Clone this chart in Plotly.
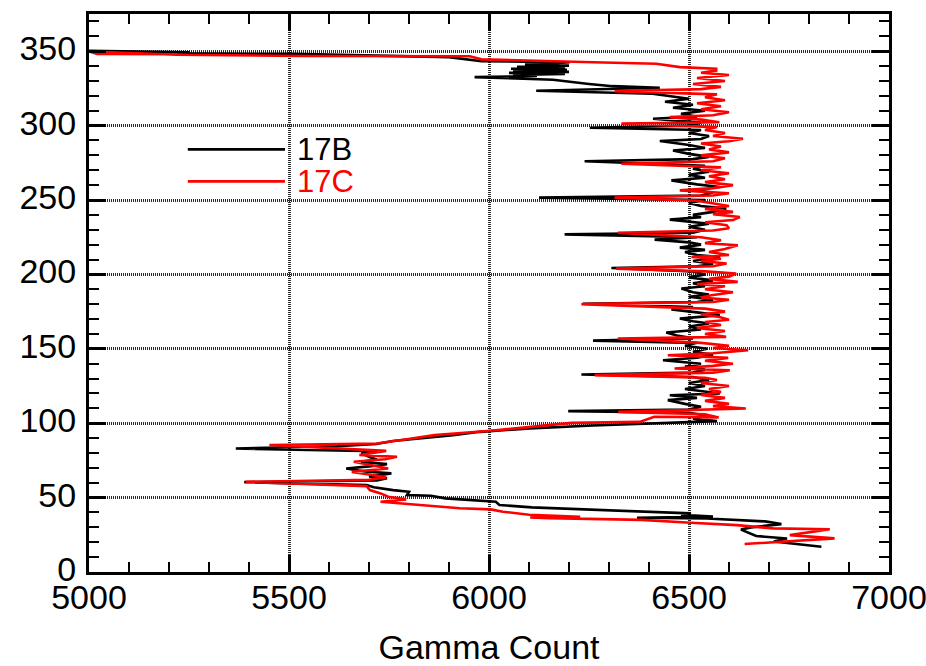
import plotly.graph_objects as go

# ---------------- data (depth, gamma count) ----------------
b_depth = [17.0, 20.5, 22.5, 24.2, 28.5, 30.0, 32.2, 34.0, 36.0, 36.5, 37.3, 38.5, 39.4, 41.5, 43.4, 45.0,
           47.2, 49.5, 51.2, 51.7, 53.9, 55.0, 56.9, 58.4, 60.4, 61.5, 63.0, 64.2, 66.3, 67.5, 69.6, 71.0,
           72.5, 74.0, 75.5, 77.5, 79.7, 81.2, 83.0, 84.5, 86.0, 88.0, 90.2, 92.0, 94.2, 96.5, 98.5, 100.0,
           101.4, 103, 105, 107, 108.1, 109.2, 111, 113, 115.5, 117, 118.8, 120, 121.5, 123, 125, 127, 129,
           131, 132.7, 134, 136, 138, 140, 142.3, 144, 146, 148, 150, 152, 154, 155.5, 157, 159, 161, 163,
           165, 167, 168.5, 170.3, 172.6, 174.5, 176.4, 178, 180.3, 181.5, 183, 185, 186.5, 188, 190.5,
           192, 194, 196, 198, 200, 202, 204.3, 205.5, 207, 209, 211.7, 213, 215, 216.5, 218, 220, 221.5,
           223.4, 225, 226.9, 228, 230, 232, 234, 236.8, 238.5, 240, 242, 244.2, 246, 248, 250, 251.6,
           253, 255, 256.5, 258.7, 260.5, 263.2, 265, 267, 269, 271, 273, 276, 277.5, 279, 281, 283.3,
           285, 287, 289.6, 291, 293, 295, 297, 298.6, 300, 302, 304.6, 306, 308, 310, 312, 314, 316, 318,
           320, 321.4, 323.4, 325.4, 326.5, 328, 330.8, 332.0, 332.6, 333.3, 334.0, 334.7, 335.4, 336.1,
           336.8, 337.5, 338.2, 338.9, 339.6, 340.3, 341.0, 341.7, 342.6, 343.3, 346.0, 348.2, 348.6,
           349.2, 350.3]
b_count = [6831, 6712, 6745, 6668, 6630, 6655, 6731, 6690, 6545, 6370, 6560, 6480, 6505, 6300, 6107, 6026,
           6017, 5891, 5855, 5795, 5800, 5760, 5712, 5694, 5388, 5720, 5745, 5700, 5756, 5690, 5643, 5700,
           5745, 5680, 5720, 5700, 5681, 5720, 5367, 5620, 5718, 5760, 5852, 5910, 5977, 6102, 6260, 6400,
           6570, 6510, 6545, 6500, 6198, 6500, 6530, 6490, 6447, 6520, 6452, 6577, 6530, 6490, 6540, 6500, 6550,
           6510, 6231, 6510, 6540, 6490, 6530, 6435, 6520, 6560, 6510, 6545, 6490, 6520, 6260, 6510, 6470, 6443, 6530,
           6500, 6550, 6510, 6477, 6577, 6520, 6456, 6510, 6235, 6520, 6560, 6500, 6550, 6510, 6481,
           6540, 6510, 6560, 6500, 6540, 6510, 6306, 6520, 6560, 6510, 6577, 6520, 6490, 6540, 6477, 6530, 6500,
           6414, 6520, 6189, 6510, 6540, 6500, 6550, 6452, 6530, 6510, 6560, 6593, 6530, 6500, 6540, 6125,
           6530, 6560, 6510, 6577, 6520, 6456, 6540, 6500, 6550, 6510, 6540, 6239, 6510, 6550, 6500, 6460,
           6540, 6500, 6427, 6530, 6550, 6500, 6530, 6252, 6500, 6530, 6410, 6520, 6480, 6540, 6460, 6510, 6440, 6500,
           6450, 6409, 6118, 6427, 6309, 6250, 6160, 6030, 5964, 6120, 6060, 6190, 6050, 6200,
           6060, 6195, 6055, 6190, 6070, 6200, 6090, 6150, 6202, 5981, 5900, 5510, 5220,
           5250, 5000]

r_depth = [18.8, 22.6, 24.8, 28.7, 29.3, 31.5, 33.1, 35.0, 36.2, 36.7, 37.1, 38.5, 40.5, 42.1, 42.8, 45.7,
           47.2, 48.8, 50.6, 52.8, 55.1, 57.7, 60.6, 62.0, 63.6, 65.5, 67.3, 69.6, 72.0, 74.1, 75.8, 77.4,
           78.6, 81.4, 85.3, 86.4, 89.0, 92.0, 94.9, 97.5, 100.2, 100.9, 104.3, 103.9, 106, 107.6, 109.9,
           111.5, 113, 115, 117, 119, 121, 123, 125, 127, 129, 130.5, 132.3, 134, 135.6, 136.8, 138.5, 140,
           142, 143.9, 145.7, 147, 149, 150.5, 152, 154, 156.9, 158, 160, 162, 164, 166, 168, 169.5, 171.4,
           173, 175, 177, 180, 181.5, 183, 184.5, 186, 188, 190, 192, 193.5, 195, 197, 198.5, 200.5, 202,
           203.9, 205.5, 207.3, 209, 210.5, 211.7, 213, 215, 217, 219.6, 221, 223, 225, 228, 229.5, 231,
           233, 235, 236.5, 238.6, 240.5, 242, 244, 246, 248, 249.5, 251.6, 253, 254.5, 256.5, 258, 260,
           262, 264, 266, 268, 270, 272, 274.4, 276, 278, 280, 282, 284, 286, 288, 289.5, 291.2, 293, 295,
           297, 299, 301.3, 302.3, 304, 305.7, 307, 309, 311, 313, 315, 317, 319, 321, 323.2, 324.5, 326,
           328, 330, 332, 334, 335.5, 337, 338.2, 339.3, 341.6, 342.6, 343.8, 344.5, 346.6, 346.8, 347.6,
           349.8, 348.2, 347.9]
r_count = [6639, 6864, 6752, 6852, 6710, 6620, 6505, 6380, 6150, 6103, 6228, 6100, 6035, 6004, 5927, 5793,
           5729, 5793, 5748, 5729, 5702, 5694, 5392, 5700, 5743, 5700, 5657, 5748, 5700, 5662, 5740, 5770,
           5676, 5743, 5451, 5720, 5790, 5864, 6004, 6100, 6206, 6377, 6413, 6574, 6540, 6323, 6642,
           6560, 6600, 6540, 6590, 6530, 6580, 6550, 6600, 6530, 6570, 6540, 6264, 6560, 6602, 6464, 6560, 6610,
           6540, 6598, 6447, 6560, 6648, 6560, 6600, 6530, 6322, 6593, 6540, 6590, 6520, 6580, 6540, 6600, 6576,
           6530, 6590, 6540, 6231, 6560, 6600, 6530, 6556, 6610, 6540, 6590, 6520, 6622, 6550, 6600, 6618, 6540,
           6318, 6560, 6594, 6530, 6580, 6506, 6600, 6550, 6590, 6622, 6540, 6580, 6530, 6322, 6560, 6600,
           6594, 6540, 6610, 6627, 6560, 6610, 6540, 6600, 6550, 6520, 6314, 6560, 6600, 6477, 6560, 6610,
           6540, 6590, 6550, 6600, 6530, 6580, 6331, 6560, 6590, 6530, 6600, 6550, 6580, 6530, 6600, 6635, 6560, 6590,
           6540, 6570, 6331, 6576, 6530, 6452, 6560, 6600, 6530, 6580, 6520, 6590, 6540, 6570, 6314, 6530, 6580,
           6510, 6590, 6520, 6600, 6530, 6568, 6568, 6477, 6418, 6260, 6109, 5981, 5952, 5527, 5220,
           5000, 5020, 5220]

x_ticks = [5000, 5500, 6000, 6500, 7000]
y_ticks = [0, 50, 100, 150, 200, 250, 300, 350]
series_names = ["17B", "17C"]
series_colors = ["#000000", "#ff0000"]

FONT = "Liberation Sans, Arial, Helvetica, sans-serif"

fig = go.Figure()
fig.add_trace(go.Scatter(x=b_count, y=b_depth, mode="lines", name=series_names[0],
                         line=dict(color=series_colors[0], width=2.6), showlegend=False))
fig.add_trace(go.Scatter(x=r_count, y=r_depth, mode="lines", name=series_names[1],
                         line=dict(color=series_colors[1], width=2.6), showlegend=False))

# legend drawn inside the plot (line samples + coloured labels)
leg_x0, leg_x1, leg_tx = 5247, 5490, 5515
leg_y = [284.0, 262.5]
for name, col, yy in zip(series_names, series_colors, leg_y):
    fig.add_shape(type="line", xref="x", yref="y", x0=leg_x0, x1=leg_x1, y0=yy, y1=yy,
                  line=dict(color=col, width=2.6))
    fig.add_annotation(x=leg_tx, y=yy, xref="x", yref="y", text=name, showarrow=False,
                       xanchor="left", yanchor="middle", font=dict(family=FONT, size=31, color=col))

axis_common = dict(
    showline=True, linewidth=3, linecolor="black", mirror="allticks",
    ticks="inside", ticklen=17, tickwidth=2.5, tickcolor="black",
    showgrid=True, gridcolor="#2a2a2a", gridwidth=2.5, griddash="1px,1px",
    zeroline=False, automargin=False, ticklabeloverflow="allow",
    tickfont=dict(family=FONT, size=34, color="black"),
)

fig.update_xaxes(range=[5000, 7000], tickvals=x_ticks, ticktext=[str(v) for v in x_ticks],
                 minor=dict(ticks="inside", ticklen=10, tickwidth=2, tickcolor="black", dtick=100,
                            showgrid=False),
                 ticklabelstandoff=-7,
                 title=dict(text="Gamma Count", font=dict(family=FONT, size=34, color="black"), standoff=32),
                 **axis_common)
fig.update_yaxes(range=[0, 375], tickvals=y_ticks, ticktext=[str(v) for v in y_ticks],
                 minor=dict(ticks="inside", ticklen=10, tickwidth=2, tickcolor="black", dtick=10,
                            showgrid=False),
                 ticklabelstandoff=3, ticklabelshift=-3,
                 **axis_common)

fig.update_layout(width=926, height=666, margin=dict(l=89, r=37, t=14, b=94, pad=0),
                  plot_bgcolor="white", paper_bgcolor="white", showlegend=False)

fig.write_html("out.html")
